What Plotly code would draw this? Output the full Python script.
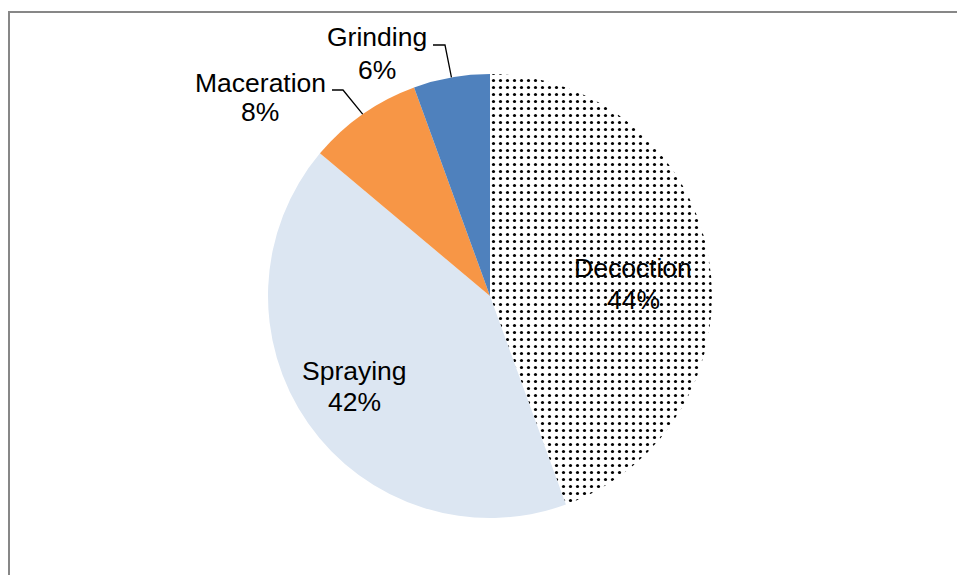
import math
import plotly.graph_objects as go

categories = ["Decoction", "Spraying", "Maceration", "Grinding"]
counts = [16, 15, 3, 2]
colors = ["#FFFFFF", "#DCE6F2", "#F79646", "#4F81BD"]
patterns = [".", "", "", ""]

W, H = 957, 575
cx, cy, R = 490, 296, 222

def px(x):
    return x / W

def py(y):
    return 1 - y / H

total = sum(counts)
pcts = [round(100 * c / total) for c in counts]

fig = go.Figure(go.Pie(
    labels=categories,
    values=counts,
    sort=False,
    direction="clockwise",
    rotation=0,
    textinfo="none",
    hoverinfo="label+percent",
    marker=dict(
        colors=colors,
        line=dict(width=0),
        pattern=dict(shape=patterns, fgcolor="#000000", size=7, solidity=0.16),
    ),
    domain=dict(x=[px(cx - R), px(cx + R)], y=[py(cy + R), py(cy - R)]),
    showlegend=False,
))

font = dict(family="Liberation Sans, Arial, sans-serif", size=26.5, color="#000000")

# label positions (px): (x, y line1, y line2)
label_pos = {
    "Decoction": (633, 268, 300),
    "Spraying": (354, 371, 402),
    "Maceration": (260, 83, 112),
    "Grinding": (377, 37, 70),
}
annotations = []
for cat, p in zip(categories, pcts):
    x, y1, y2 = label_pos[cat]
    for txt, yy in ((cat, y1), (f"{p}%", y2)):
        annotations.append(dict(
            x=px(x), y=py(yy), xref="paper", yref="paper",
            text=txt, showarrow=False, font=font,
            xanchor="center", yanchor="middle",
        ))

# leader lines for outside labels
shapes = []
cum = 0
mids = {}
for cat, c in zip(categories, counts):
    mids[cat] = (cum + c / 2) / total * 2 * math.pi
    cum += c
leaders = {"Maceration": (332, 343, 90), "Grinding": (433, 445, 45)}
for cat, (xa, xb, yl) in leaders.items():
    a = mids[cat]
    ex = cx + R * math.sin(a)
    ey = cy - R * math.cos(a)
    shapes.append(dict(
        type="path", xref="paper", yref="paper",
        path=f"M {px(xa)},{py(yl)} L {px(xb)},{py(yl)} L {px(ex)},{py(ey)}",
        line=dict(color="#000000", width=1.3),
    ))

# chart frame: only left and top edges are visible in the window
shapes.append(dict(
    type="path", xref="paper", yref="paper",
    path=f"M {px(9)},{py(575)} L {px(9)},{py(12)} L {px(957)},{py(12)}",
    line=dict(color="#878787", width=2),
))

fig.update_layout(
    width=W, height=H,
    margin=dict(l=0, r=0, t=0, b=0),
    paper_bgcolor="#FFFFFF",
    plot_bgcolor="#FFFFFF",
    annotations=annotations,
    shapes=shapes,
)

fig.write_html(
    "out.html",
    config={"displayModeBar": False},
    post_script="document.body.style.margin='0';document.body.style.overflow='hidden';",
)
